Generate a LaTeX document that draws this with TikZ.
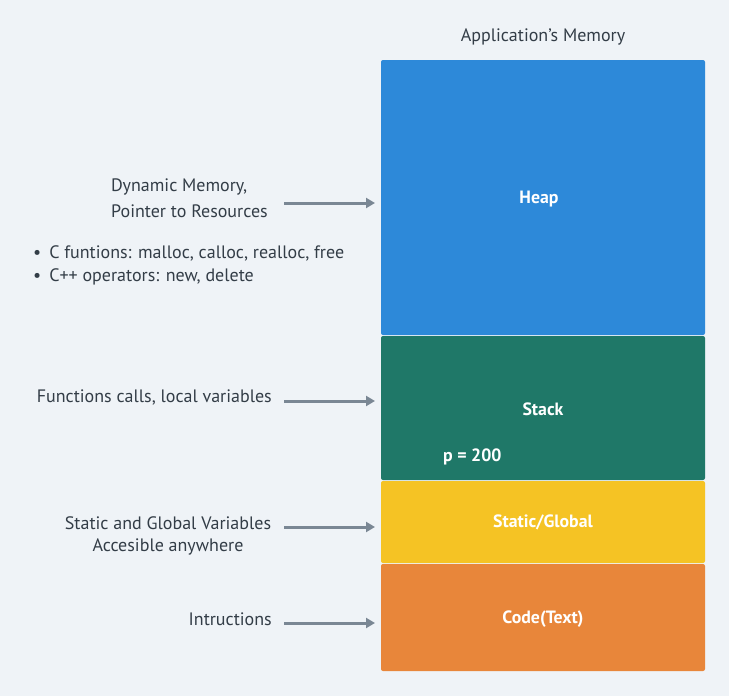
\documentclass[tikz,border=0pt]{standalone}
\usepackage{fontspec}
\setmainfont{PT Sans}
\usetikzlibrary{arrows.meta}
\definecolor{bg}{HTML}{EFF3F7}
\definecolor{txt}{HTML}{333D47}
\definecolor{arr}{HTML}{7A8794}
\definecolor{heapc}{HTML}{2D89D9}
\definecolor{stackc}{HTML}{1F7868}
\definecolor{staticc}{HTML}{F5C324}
\definecolor{codec}{HTML}{E8863A}
\tikzset{
  seg/.style={rounded corners=2pt, draw=none},
  lbl/.style={text=white, font=\fontsize{17.8}{20}\selectfont\bfseries},
  note/.style={text=txt, font=\fontsize{18}{24}\selectfont, inner sep=0pt},
  conn/.style={draw=arr, line width=3pt, -{Triangle[length=9pt,width=10pt]}, shorten >=0pt}
}
\begin{document}
\begin{tikzpicture}[x=1pt,y=-1pt]
\fill[bg] (0,0) rectangle (729,696);
\useasboundingbox (0,0) rectangle (729,696);
% segments
\fill[seg, heapc] (381,60) rectangle (705,335);
\fill[seg, stackc] (381,336) rectangle (705,480);
\fill[seg, staticc] (381,481) rectangle (705,563);
\fill[seg, codec] (381,564) rectangle (705,671);
\node[note] (title) at (543,37) {Application’s Memory};
\node[lbl] (heap) at (539,199) {Heap};
\node[lbl] (stack) at (543,409) {Stack};
\node[lbl, anchor=west, inner sep=0pt] (p) at (443,457) {p = 200};
\node[lbl] (static) at (543,522) {Static/Global};
\node[lbl] (code) at (543,619) {Code(Text)};
% arrow targets
\coordinate (th) at (375,203);
\coordinate (ts) at (375,401);
\coordinate (tg) at (375,527);
\coordinate (tc) at (375,623);
% notes
\node[note, anchor=west] (dyn1) at (111,187) {Dynamic Memory,};
\node[note, anchor=west] (dyn2) at (111,211) {Pointer to Resources};
\node[note, anchor=west] (b1) at (33,253) {\textbullet\hspace{8pt}C funtions: malloc, calloc, realloc, free};
\node[note, anchor=west] (b2) at (33,277) {\textbullet\hspace{8pt}C++ operators: new, delete};
\node[note, anchor=east] (fn) at (272,397) {Functions calls, local variables};
\node[note] (sg1) at (168,523) {Static and Global Variables};
\node[note] (sg2) at (168,547) {Accesible anywhere};
\node[note, anchor=east] (ins) at (272,619) {Intructions};
\coordinate (sh) at (284,203);
\coordinate (ss) at (284,401);
\coordinate (sgs) at (284,527);
\coordinate (sc) at (284,623);
\draw[conn] (sh) -- (th);
\draw[conn] (ss) -- (ts);
\draw[conn] (sgs) -- (tg);
\draw[conn] (sc) -- (tc);
\end{tikzpicture}
\end{document}
